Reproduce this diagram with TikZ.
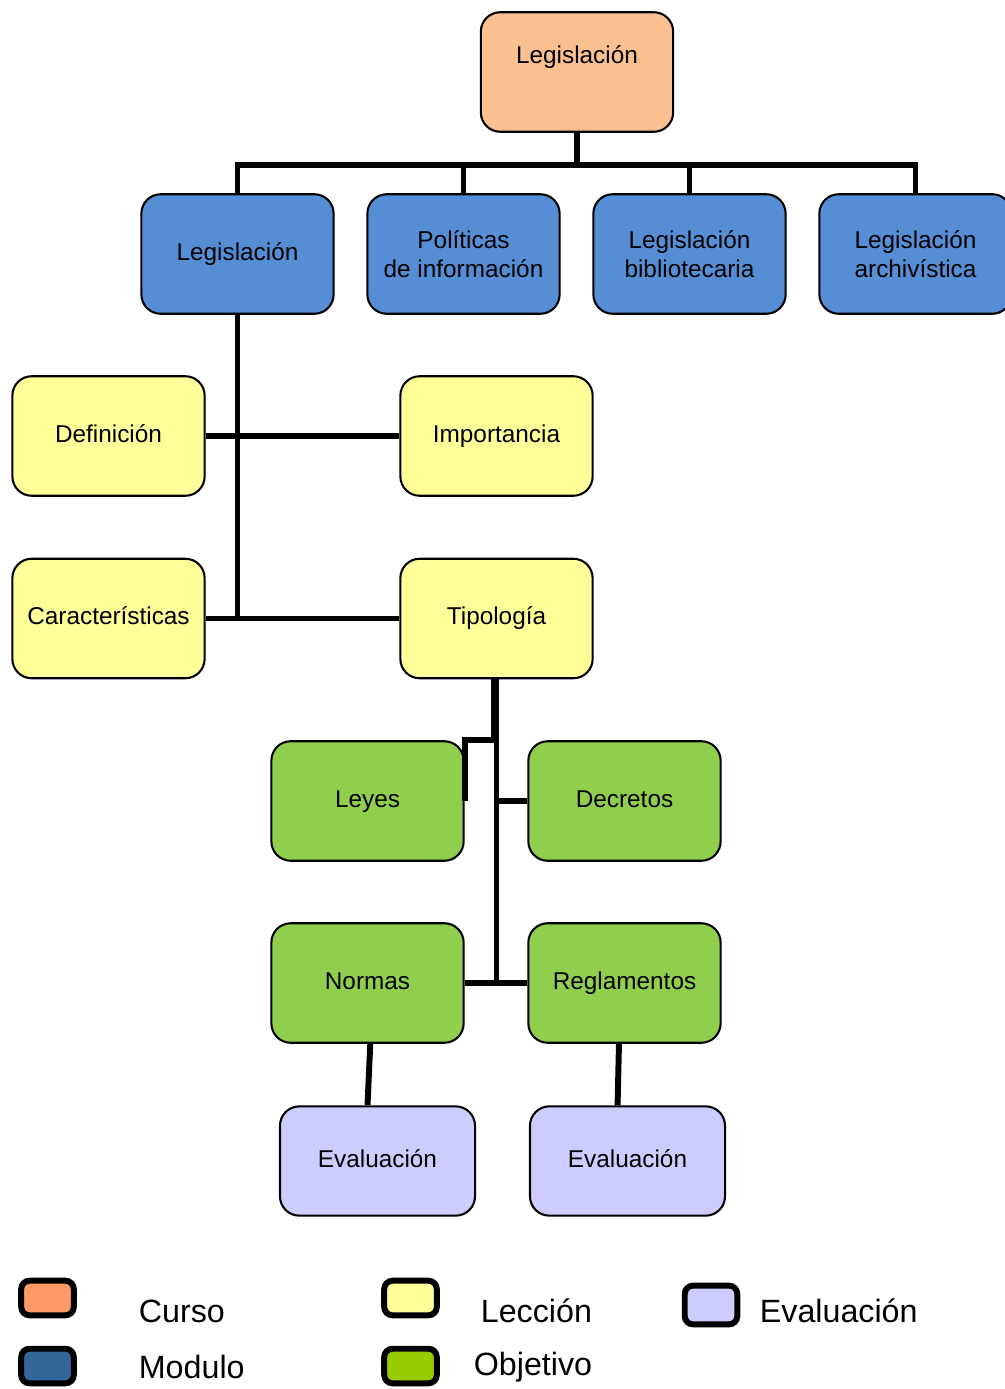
\documentclass[tikz,border=0pt]{standalone}
\usepackage{fontspec}
\setmainfont{Liberation Sans}
\usepackage{tikz}
\usetikzlibrary{positioning}
\definecolor{cursocol}{HTML}{FAC090}
\definecolor{modulocol}{HTML}{558ED5}
\definecolor{leccioncol}{HTML}{FFFF99}
\definecolor{objetivocol}{HTML}{8FCF4D}
\definecolor{evalcol}{HTML}{CCCCFF}
\definecolor{leycurso}{HTML}{FF9966}
\definecolor{leymodulo}{HTML}{336699}
\definecolor{leyobjetivo}{HTML}{99CC00}
\tikzset{texto/.style = {text height=1.0em, text depth=0.07em,
                         font=\fontsize{17.6}{21}\selectfont},
         box/.style = {draw, line width=1.5pt, rounded corners=14pt,
                       minimum width=139pt, minimum height=86.4pt,
                       texto, align=center},
         doble/.style = {text height=, text depth=},
         curso/.style = {box, fill=cursocol},
         modulo/.style = {box, fill=modulocol},
         leccion/.style = {box, fill=leccioncol},
         objetivo/.style = {box, fill=objetivocol},
         evaluacion/.style = {box, fill=evalcol, minimum width=141pt, minimum height=79pt},
         conector/.style = {draw, line width=4.3pt, line join=miter},
         muestra/.style = {draw, line width=4.3pt, rounded corners=6pt,
                           minimum width=38pt, minimum height=25pt},
         leyenda/.style = {anchor=west, font=\fontsize{23.3}{27}\selectfont}}

\begin{document}
\begin{tikzpicture}[x=0.0254cm, y=-0.0254cm]
    \useasboundingbox (0, 0) rectangle (1005, 1389);
    \clip (0, 0) rectangle (1005, 1389);
    \node (curso) [curso] at (577, 72) {};
    \node (cursotext) at (577, 57) [texto] {Legislación};
    \node (mod1) [modulo] at (237.5, 254) {Legislación};
    \node (mod2) [modulo, doble] at (463.5, 254) {Políticas\\de información};
    \node (mod3) [modulo, doble] at (689.5, 254) {Legislación\\bibliotecaria};
    \node (mod4) [modulo, doble] at (915.5, 254) {Legislación\\archivística};
    \node (defin) [leccion] at (108.5, 436) {Definición};
    \node (import) [leccion] at (496.5, 436) {Importancia};
    \node (caract) [leccion] at (108.5, 618.5) {Características};
    \node (tipolog) [leccion] at (496.5, 618.5) {Tipología};
    \node (leyes) [objetivo] at (367.5, 801) {Leyes};
    \node (decretos) [objetivo] at (624.5, 801) {Decretos};
    \node (normas) [objetivo] at (367.5, 983) {Normas};
    \node (reglam) [objetivo] at (624.5, 983) {Reglamentos};
    \node (eval1) [evaluacion] at (377.5, 1161) {Evaluación};
    \node (eval2) [evaluacion] at (627.5, 1161) {Evaluación};
    \coordinate (bus) at (577, 165);
    \coordinate (codo) at (465, 740);
    \draw [conector] (curso.south) -- (bus);
    \draw [conector] (mod1.north) |- (bus) -| (mod4.north);
    \draw [conector] (mod2.north) -- (mod2.north |- bus);
    \draw [conector] (mod3.north) -- (mod3.north |- bus);
    \draw [conector] (mod1.south) -- (mod1.south |- caract.east);
    \draw [conector] (defin) -- (import);
    \draw [conector] (caract) -- (tipolog);
    \draw [conector] ([xshift=-2]tipolog.south) |- (codo) -- (codo |- leyes.east);
    \draw [conector] (tipolog.south) -- (tipolog.south |- normas.east);
    \draw [conector] (decretos.west) -- (decretos.west -| tipolog.south);
    \draw [conector] (normas) -- (reglam);
    \draw [conector] ([xshift=2]normas.south) -- (normas.south |- eval1.north);
    \draw [conector] ([xshift=-4]reglam.south) -- ([xshift=-5]reglam.south |- eval2.north);
    \node (lcurso) [muestra, fill=leycurso] at (47.5, 1298) {};
    \node (lmodulo) [muestra, fill=leymodulo] at (47.5, 1366) {};
    \node (lleccion) [muestra, fill=leccioncol] at (410.5, 1298) {};
    \node (lobjetivo) [muestra, fill=leyobjetivo] at (410.5, 1366) {};
    \node (leval) [muestra, fill=evalcol, minimum height=28pt] at (711, 1305) {};
    \node (tcurso) [leyenda] at (134, 1311) {Curso};
    \node (tmodulo) [leyenda] at (134, 1367) {Modulo};
    \node (tleccion) [leyenda] at (476, 1311) {Lección};
    \node (tobjetivo) [leyenda] at (469, 1367) {Objetivo};
    \node (teval) [leyenda] at (755, 1311) {Evaluación};
\end{tikzpicture}
\end{document}
